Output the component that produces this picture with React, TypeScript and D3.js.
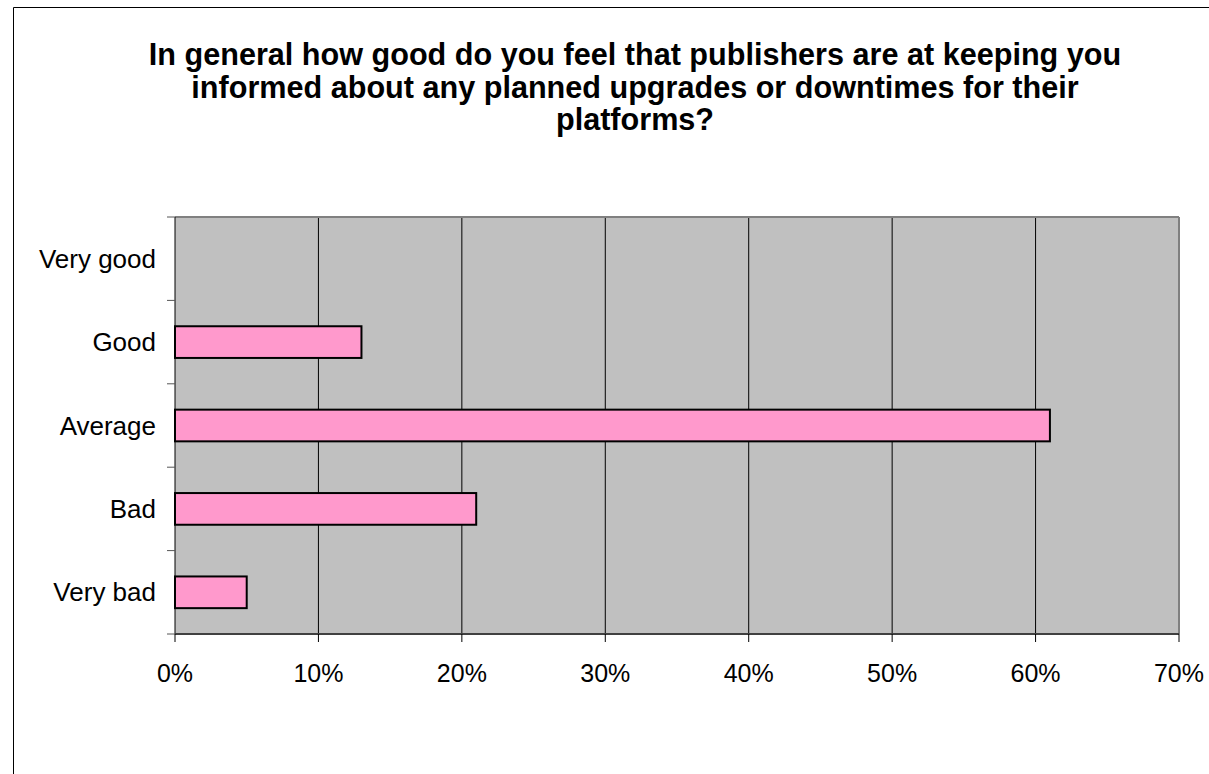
import React from "react";
import * as d3 from "d3";

const categories = ["Very good", "Good", "Average", "Bad", "Very bad"];
const values = [0, 13, 61, 21, 5];
const xTicks = [0, 10, 20, 30, 40, 50, 60, 70];
const titleLines = [
  "In general how good do you feel that publishers are at keeping you",
  "informed about any planned upgrades or downtimes for their",
  "platforms?",
];

const W = 1209;
const H = 774;
const left = 175;
const right = 1179;
const top = 217;
const bottom = 634;
const font = "'Liberation Sans', Arial, sans-serif";

export default function App() {
  const x = d3.scaleLinear().domain([0, 70]).range([left, right]);
  const y = d3
    .scaleBand<string>()
    .domain(categories)
    .range([top, bottom])
    .paddingInner(0.62)
    .paddingOuter(0.31);
  const step = y.step();
  const boundaries = d3.range(categories.length + 1).map((i) => top + i * step);

  return (
    <svg
      width={W}
      height={H}
      style={{ position: "absolute", left: 0, top: 0, background: "#fff" }}
    >
      {/* outer frame */}
      <line x1={13.5} y1={7.5} x2={W} y2={7.5} stroke="#000" strokeWidth={1} />
      <line x1={13.5} y1={7.5} x2={13.5} y2={H} stroke="#000" strokeWidth={1} />

      {/* title */}
      {titleLines.map((t, i) => (
        <text
          key={i}
          x={635}
          y={65 + i * 32.5}
          textAnchor="middle"
          fontFamily={font}
          fontWeight="bold"
          fontSize={30.6}
          fill="#000"
        >
          {t}
        </text>
      ))}

      {/* plot background */}
      <rect x={left} y={top} width={right - left} height={bottom - top} fill="#c0c0c0" />

      {/* gridlines */}
      {xTicks.slice(1, -1).map((t) => (
        <line key={t} x1={x(t)} x2={x(t)} y1={top} y2={bottom} stroke="#000" strokeWidth={1} />
      ))}

      {/* plot border top/right */}
      <line x1={left} x2={right} y1={top} y2={top} stroke="#808080" strokeWidth={2} />
      <line x1={right} x2={right} y1={top} y2={bottom} stroke="#808080" strokeWidth={2} />

      {/* bars */}
      {categories.map((c, i) =>
        values[i] > 0 ? (
          <rect
            key={c}
            x={x(0)}
            y={y(c)!}
            width={x(values[i]) - x(0)}
            height={y.bandwidth()}
            fill="#ff99cc"
            stroke="#000"
            strokeWidth={2}
          />
        ) : null
      )}

      {/* y axis */}
      <line x1={left} x2={left} y1={top} y2={bottom} stroke="#000" strokeWidth={1} />
      {boundaries.map((b, i) => (
        <line key={i} x1={167} x2={left} y1={b} y2={b} stroke="#555" strokeWidth={1} />
      ))}
      {categories.map((c) => (
        <text
          key={c}
          x={156}
          y={y(c)! + y.bandwidth() / 2}
          dy="0.35em"
          textAnchor="end"
          fontFamily={font}
          fontSize={26}
          fill="#000"
        >
          {c}
        </text>
      ))}

      {/* x axis */}
      <line x1={left} x2={right} y1={bottom} y2={bottom} stroke="#404040" strokeWidth={2} />
      {xTicks.map((t) => (
        <g key={t}>
          <line x1={x(t)} x2={x(t)} y1={bottom} y2={bottom + 8} stroke="#000" strokeWidth={1} />
          <text
            x={x(t)}
            y={682}
            textAnchor="middle"
            fontFamily={font}
            fontSize={25}
            fill="#000"
          >
            {t}%
          </text>
        </g>
      ))}
    </svg>
  );
}
